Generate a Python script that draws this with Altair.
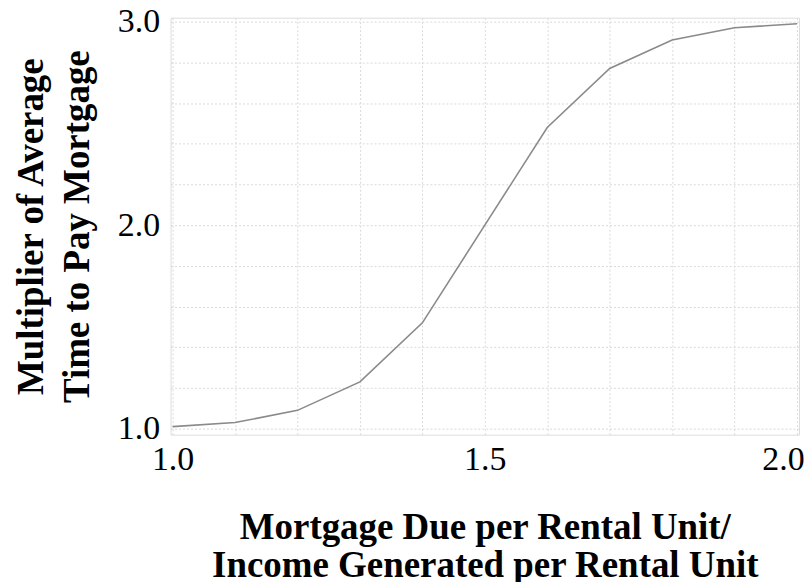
import altair as alt
import pandas as pd

# Data
x_values = [1.0, 1.1, 1.2, 1.3, 1.4, 1.5, 1.6, 1.7, 1.8, 1.9, 2.0]
y_values = [1.01, 1.03, 1.09, 1.23, 1.52, 2.0, 2.48, 2.77, 2.91, 2.97, 2.99]

x_grid = [1.0, 1.1, 1.2, 1.3, 1.4, 1.5, 1.6, 1.7, 1.8, 1.9, 2.0]
y_grid = [1.0, 1.2, 1.4, 1.6, 1.8, 2.0, 2.2, 2.4, 2.6, 2.8, 3.0]
x_labels = ["1.0", "1.5", "2.0"]
y_labels = ["1.0", "2.0", "3.0"]

x_title = ["Mortgage Due per Rental Unit/", "Income Generated per Rental Unit"]
y_title = ["Multiplier of Average", "Time to Pay Mortgage"]

df = pd.DataFrame({"x": x_values, "y": y_values})

FONT = "Liberation Serif"

x_axis = alt.Axis(
    values=x_grid,
    format=".1f",
    labelExpr="indexof(" + str(x_labels) + ", datum.label) >= 0 ? datum.label : ''",
    labelFont=FONT,
    labelFontSize=34,
    labelColor="black",
    labelPadding=8,
    labelFlush=False,
    labelOverlap=False,
    labelOffset={"condition": {"test": "datum.value >= 1.99", "value": -14}, "value": 0},
    ticks=False,
    tickSize=0,
    domain=False,
    grid=True,
    gridColor="#d9d9d9",
    gridDash=[2, 2],
    gridWidth=1,
    title=x_title,
    titleFont=FONT,
    titleFontSize=37,
    titleFontWeight="bold",
    titleColor="black",
    titleLineHeight=38,
    titleBaseline="alphabetic",
    titleY=104,
    titleX=315,
)

y_axis = alt.Axis(
    values=y_grid,
    format=".1f",
    labelExpr="indexof(" + str(y_labels) + ", datum.label) >= 0 ? datum.label : ''",
    labelFont=FONT,
    labelFontSize=34,
    labelColor="black",
    labelPadding=11,
    labelFlush=False,
    labelOverlap=False,
    ticks=False,
    tickSize=0,
    domain=False,
    grid=True,
    gridColor="#d9d9d9",
    gridDash=[2, 2],
    gridWidth=1,
    title=y_title,
    titleFont=FONT,
    titleFontSize=37,
    titleFontWeight="bold",
    titleColor="black",
    titleLineHeight=46,
    titleBaseline="alphabetic",
    titleAngle=-90,
    titleX=-128,
    titleY=209,
)

chart = (
    alt.Chart(df)
    .mark_line(color="#8a8a8a", strokeWidth=1.6)
    .encode(
        x=alt.X("x:Q", scale=alt.Scale(domain=[0.9968, 2.0032], nice=False, zero=False), axis=x_axis),
        y=alt.Y("y:Q", scale=alt.Scale(domain=[0.9706, 3.0196], nice=False, zero=False), axis=y_axis),
    )
    .properties(
        width=630,
        height=418,
        autosize=alt.AutoSizeParams(type="none"),
        padding={"left": 163, "top": 9, "right": 5, "bottom": 147},
    )
    .configure_view(stroke="#cccccc", strokeWidth=1)
    .configure(background="white")
)

chart.save("out.html", embed_options={"renderer": "svg", "actions": False})
